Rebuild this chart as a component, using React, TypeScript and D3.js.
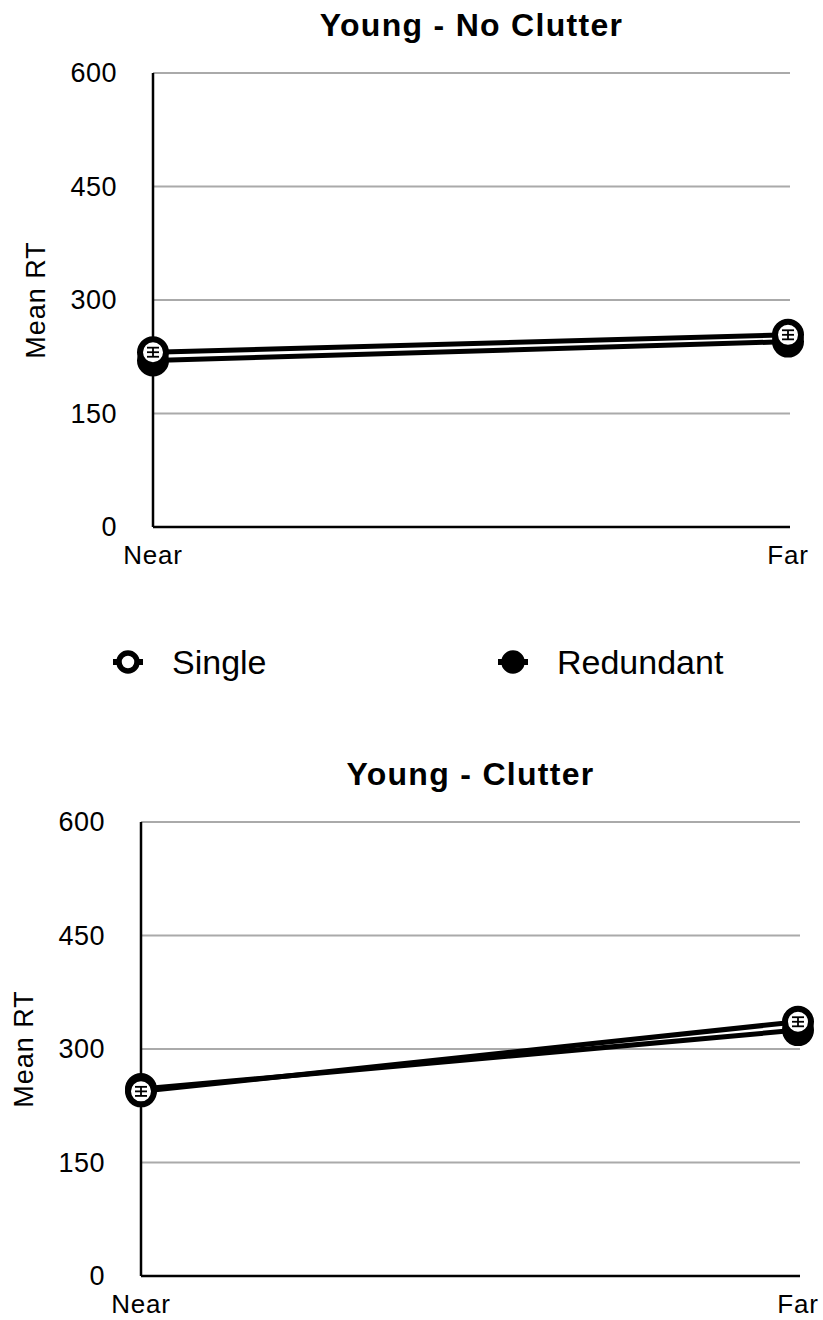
import React from "react"
import * as d3 from "d3"

// distance conditions on the x axis
const categories = ["Near", "Far"]
const yTicks = [0, 150, 300, 450, 600]
const seriesNames = ["Single", "Redundant"]

// Young - No Clutter
const noClutterSingle = [231, 254]
const noClutterRedundant = [220, 245]
// Young - Clutter
const clutterSingle = [244, 336]
const clutterRedundant = [247, 325]
// small error bars (half-widths)
const noClutterErr = [6, 6]
const clutterErr = [6, 6]

const FONT = "'Liberation Sans', Arial, Helvetica, sans-serif"

type PanelProps = {
  title: string
  left: number
  right: number
  top: number
  bottom: number
  single: number[]
  redundant: number[]
  err: number[]
}

function Panel({ title, left, right, top, bottom, single, redundant, err }: PanelProps) {
  const x = d3.scalePoint<string>().domain(categories).range([left, right - 2])
  const y = d3.scaleLinear().domain([0, 600]).range([bottom, top])
  const line = d3
    .line<number>()
    .x((d, i) => x(categories[i]) as number)
    .y(d => y(d))

  // redundant drawn first so the open single markers stay on top
  const series = [
    { name: seriesNames[1], values: redundant, fill: "#000" },
    { name: seriesNames[0], values: single, fill: "#fff" },
  ]

  return (
    <g>
      <text
        x={(left + right) / 2}
        y={top - 37}
        textAnchor="middle"
        fontFamily={FONT}
        fontWeight="bold"
        fontSize={32}
        letterSpacing={1.3}
      >
        {title}
      </text>
      {yTicks.map(t => (
        <g key={t}>
          {t > 0 && <line x1={left} x2={right} y1={y(t)} y2={y(t)} stroke="#aaa" strokeWidth={2} />}
          <text x={left - 36} y={y(t)} dy="0.35em" textAnchor="end" fontFamily={FONT} fontSize={27} letterSpacing={0.5}>
            {t}
          </text>
        </g>
      ))}
      <line x1={left} x2={left} y1={top} y2={bottom} stroke="#000" strokeWidth={2.5} />
      <line x1={left} x2={right} y1={bottom} y2={bottom} stroke="#000" strokeWidth={2.5} />
      <text
        transform={`translate(${left - 108},${(top + bottom) / 2}) rotate(-90)`}
        textAnchor="middle"
        fontFamily={FONT}
        fontSize={27}
        letterSpacing={1}
      >
        Mean RT
      </text>
      {categories.map(c => (
        <text key={c} x={x(c) as number} y={bottom + 37} textAnchor="middle" fontFamily={FONT} fontSize={26} letterSpacing={0.8}>
          {c}
        </text>
      ))}
      {series.map(s => (
        <path key={s.name + "l"} d={line(s.values) || ""} fill="none" stroke="#000" strokeWidth={5} />
      ))}
      {series.map(s => (
        <g key={s.name}>
          {s.values.map((v, i) => {
            const cx = x(categories[i]) as number
            const cy = y(v)
            return (
              <g key={i}>
                <circle cx={cx} cy={cy} r={13} fill={s.fill} stroke="#000" strokeWidth={6} />
                <line x1={cx} x2={cx} y1={y(v + err[i])} y2={y(v - err[i])} stroke="#000" strokeWidth={1.8} />
                <line x1={cx - 6} x2={cx + 6} y1={y(v + err[i])} y2={y(v + err[i])} stroke="#000" strokeWidth={1.8} />
                <line x1={cx - 6} x2={cx + 6} y1={y(v - err[i])} y2={y(v - err[i])} stroke="#000" strokeWidth={1.8} />
                <line x1={cx - 6} x2={cx + 6} y1={cy} y2={cy} stroke="#000" strokeWidth={1.8} />
              </g>
            )
          })}
        </g>
      ))}
    </g>
  )
}

function Legend({ y }: { y: number }) {
  const items = [
    { name: seriesNames[0], x: 128, fill: "#fff" },
    { name: seriesNames[1], x: 513, fill: "#000" },
  ]
  return (
    <g>
      {items.map(it => (
        <g key={it.name}>
          <line x1={it.x - 15} x2={it.x + 15} y1={y} y2={y} stroke="#000" strokeWidth={6} />
          <circle cx={it.x} cy={y} r={9} fill={it.fill} stroke="#000" strokeWidth={5.5} />
          <text x={it.x + 44} y={y} dy="0.36em" fontFamily={FONT} fontSize={34}>
            {it.name}
          </text>
        </g>
      ))}
    </g>
  )
}

export default function App() {
  return (
    <svg
      width={823}
      height={1320}
      style={{ position: "absolute", left: 0, top: 0, background: "#fff" }}
    >
      <Panel
        title="Young - No Clutter"
        left={153}
        right={790}
        top={73}
        bottom={527}
        single={noClutterSingle}
        redundant={noClutterRedundant}
        err={noClutterErr}
      />
      <Legend y={662} />
      <Panel
        title="Young - Clutter"
        left={141}
        right={800}
        top={822}
        bottom={1276}
        single={clutterSingle}
        redundant={clutterRedundant}
        err={clutterErr}
      />
    </svg>
  )
}
